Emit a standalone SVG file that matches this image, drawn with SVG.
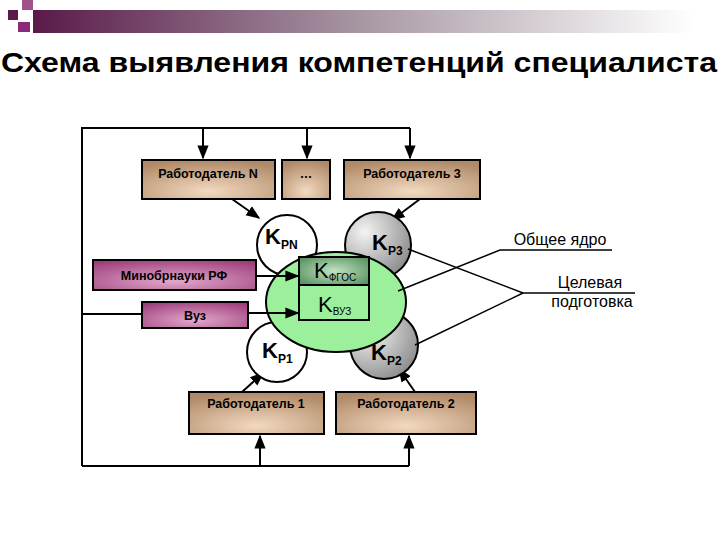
<svg xmlns="http://www.w3.org/2000/svg" width="720" height="540" viewBox="0 0 720 540">
<defs>
<linearGradient id="bar" x1="0" x2="1"><stop offset="0" stop-color="#5a1a4a"/><stop offset="0.5" stop-color="#a898a4"/><stop offset="1" stop-color="#ffffff"/></linearGradient>
<radialGradient id="tan" cx="0.5" cy="0.8" r="0.8"><stop offset="0" stop-color="#f2d9c0"/><stop offset="1" stop-color="#b08a68"/></radialGradient>
<radialGradient id="mag" cx="0.5" cy="0.7" r="0.8"><stop offset="0" stop-color="#e2a8cc"/><stop offset="1" stop-color="#9a3a78"/></radialGradient>
<radialGradient id="gray" cx="0.3" cy="0.3" r="0.8"><stop offset="0" stop-color="#f4f4f4"/><stop offset="1" stop-color="#8a8a8a"/></radialGradient>
<radialGradient id="dg" cx="0.5" cy="0.5" r="0.7"><stop offset="0" stop-color="#c2e2c2"/><stop offset="1" stop-color="#4e8a56"/></radialGradient>
<marker id="a" viewBox="0 0 10 10" refX="9" refY="5" markerWidth="7" markerHeight="7" orient="auto"><path d="M0,1 L10,5 L0,9 z" fill="#000"/></marker>
<style>
.b{stroke:#000;stroke-width:2}
.l{stroke:#000;stroke-width:2;fill:none}
.t{font-family:"Liberation Sans",Arial,sans-serif;font-weight:bold;font-size:12.5px;text-anchor:middle}
.k{font-family:"Liberation Sans",Arial,sans-serif;font-weight:bold;font-size:22px}
.s{font-size:12px}
.r{font-family:"Liberation Sans",Arial,sans-serif;font-size:16px;text-anchor:middle}
</style>
</defs>
<rect x="33" y="10" width="660" height="23" fill="url(#bar)"/>
<rect x="0" y="0" width="33" height="8" fill="#fff"/>
<rect x="8" y="10" width="10" height="10" fill="#5a1a4a"/>
<rect x="22" y="0" width="11" height="10" fill="#a0508a"/>
<rect x="18" y="22" width="12" height="10" fill="#8a2a7a"/>
<text x="1" y="72" font-family="'Liberation Sans',Arial,sans-serif" font-weight="bold" font-size="28" textLength="716" lengthAdjust="spacingAndGlyphs">Схема выявления компетенций специалиста</text>
<g id="connectors">
<polyline class="l" points="82,466 82,128 410,128"/>
<line class="l" x1="203" y1="128" x2="203" y2="158" marker-end="url(#a)"/>
<line class="l" x1="307" y1="128" x2="307" y2="158" marker-end="url(#a)"/>
<line class="l" x1="410" y1="128" x2="410" y2="158" marker-end="url(#a)"/>
<polyline class="l" points="82,466 409,466"/>
<line class="l" x1="260" y1="466" x2="260" y2="436" marker-end="url(#a)"/>
<line class="l" x1="409" y1="466" x2="409" y2="436" marker-end="url(#a)"/>
<line class="l" x1="82" y1="314" x2="142" y2="314"/>
<line class="l" x1="232" y1="199" x2="259" y2="218" marker-end="url(#a)"/>
<line class="l" x1="420" y1="199" x2="392" y2="220" marker-end="url(#a)"/>
<line class="l" x1="242" y1="392" x2="263" y2="373" marker-end="url(#a)"/>
<line class="l" x1="415" y1="392" x2="399" y2="369" marker-end="url(#a)"/>
</g>
<g id="wN"><rect class="b" x="142" y="160" width="133" height="39" fill="url(#tan)"/><text class="t" x="208" y="178">Работодатель N</text></g>
<g id="wDots"><rect class="b" x="282" y="160" width="48" height="39" fill="url(#tan)"/><text class="t" x="306" y="178">…</text></g>
<g id="w3"><rect class="b" x="344" y="160" width="136" height="39" fill="url(#tan)"/><text class="t" x="412" y="178">Работодатель 3</text></g>
<g id="w1"><rect class="b" x="189" y="392" width="135" height="42" fill="url(#tan)"/><text class="t" x="256" y="408">Работодатель 1</text></g>
<g id="w2"><rect class="b" x="336" y="392" width="140" height="42" fill="url(#tan)"/><text class="t" x="406" y="408">Работодатель 2</text></g>
<g id="kpn"><circle class="b" cx="287" cy="245" r="30" fill="#fff"/><text class="k" x="265" y="244">K<tspan class="s" dy="5">PN</tspan></text></g>
<g id="kp3"><circle class="b" cx="378" cy="245" r="33" fill="url(#gray)"/><text class="k" x="372" y="250">K<tspan class="s" dy="5">P3</tspan></text></g>
<g id="kp1"><circle class="b" cx="277" cy="352" r="30" fill="#fff"/><text class="k" x="262" y="358">K<tspan class="s" dy="5">P1</tspan></text></g>
<g id="kp2"><circle class="b" cx="384" cy="345" r="34" fill="url(#gray)"/><text class="k" x="371" y="360">K<tspan class="s" dy="5">P2</tspan></text></g>
<g id="core">
<ellipse class="b" cx="336" cy="302" rx="70" ry="50" fill="#9cf09c"/>
<rect class="b" x="299" y="257" width="70" height="28" fill="url(#dg)"/>
<rect class="b" x="299" y="285" width="70" height="35" fill="#9cf09c"/>
<text class="k" x="314" y="278" font-size="15" style="font-weight:normal">K<tspan font-size="10" dy="3">ФГОС</tspan></text>
<text class="k" x="318" y="312" font-size="15" style="font-weight:normal">K<tspan font-size="10" dy="3">ВУЗ</tspan></text>
</g>
<g id="connectors2">
<line class="l" x1="256" y1="276" x2="298" y2="276" marker-end="url(#a)"/>
<line class="l" x1="248" y1="313" x2="298" y2="313" marker-end="url(#a)"/>
<polyline class="l" style="stroke-width:1.5" points="398,291 500,250 612,250"/>
<polyline class="l" style="stroke-width:1.5" points="408,249 523,293 635,293"/>
<line class="l" style="stroke-width:1.5" x1="415" y1="345" x2="523" y2="293"/>
</g>
<g id="minobr"><rect class="b" x="93" y="260" width="163" height="30" fill="url(#mag)"/><text class="t" x="174" y="280">Минобрнауки РФ</text></g>
<g id="vuz"><rect class="b" x="142" y="302" width="106" height="26" fill="url(#mag)"/><text class="t" x="195" y="320">Вуз</text></g>
<g id="labels">
<text class="r" x="560" y="245">Общее  ядро</text>
<text class="r" x="590" y="288">Целевая</text>
<text class="r" x="592" y="307">подготовка</text>
</g>
</svg>
